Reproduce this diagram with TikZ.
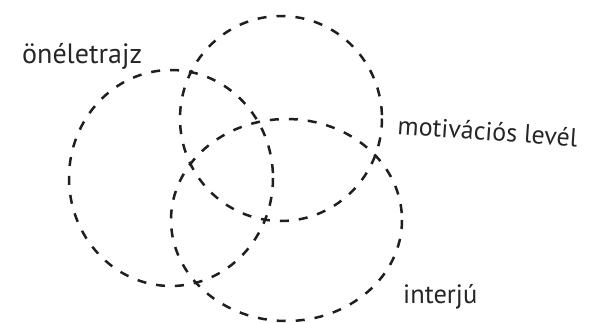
\documentclass[tikz,border=0pt]{standalone}
\usepackage{fontspec}
\setmainfont{PT Sans}
\begin{document}
\begin{tikzpicture}[x=1pt,y=-1pt,
  ring/.style={draw=black!88, line width=2.5pt, dash pattern=on 9pt off 10pt},
  lbl/.style={inner sep=0pt, text=black!85}]
\useasboundingbox (0,0) rectangle (590,322);
\draw[ring] (171,178) ellipse [x radius=102, y radius=108];
\draw[ring] (281,118.5) ellipse [x radius=101, y radius=102.5];
\draw[ring] (286.5,220) ellipse [x radius=115.5, y radius=101];
\node[lbl, anchor=base west, font=\fontsize{28}{32}\selectfont] (cv) at (22,63) {önéletrajz};
\node[lbl, anchor=base west, rotate=-4, font=\fontsize{26}{30}\selectfont] (ml) at (397,134) {motivációs levél};
\node[lbl, anchor=base west, font=\fontsize{26.5}{30}\selectfont] (iv) at (403,303) {interjú};
\end{tikzpicture}
\end{document}
